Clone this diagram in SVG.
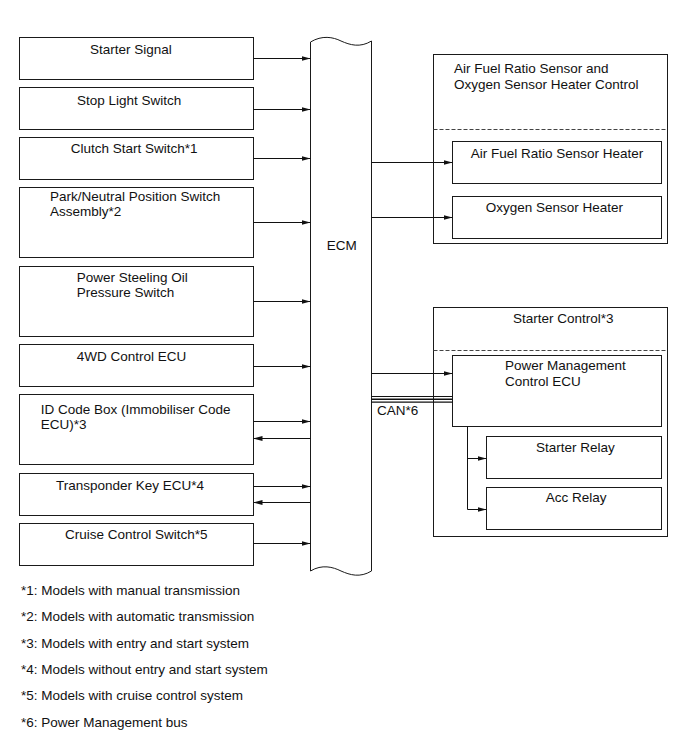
<svg xmlns="http://www.w3.org/2000/svg" width="690" height="756" viewBox="0 0 690 756">
<style>
.box{fill:#fff;stroke:#1a1a1a;stroke-width:1}
.grp{fill:none;stroke:#1a1a1a;stroke-width:1}
.dash{stroke:#444;stroke-width:1;stroke-dasharray:4 2;fill:none}
.t{font-family:"Liberation Sans",Arial,sans-serif;font-size:13.5px;fill:#111}
.c{stroke:#111;stroke-width:1;fill:none}
.ca{stroke:#111;stroke-width:1;fill:none;marker-end:url(#ah)}
</style>
<defs>
<marker id="ah" markerUnits="userSpaceOnUse" markerWidth="9" markerHeight="6" refX="9" refY="2.5" orient="auto">
<path d="M0,0 L9,2.5 L0,5 z" fill="#111"/>
</marker>
</defs>
<rect width="690" height="756" fill="#fff"/>

<g id="ecm">
<path class="box" d="M310.5,42 C322,35 333,37 341,41 C350,45 360,48 371.5,41 L371.5,571 C360,578 350,575 341,571 C333,567 322,564 310.5,571 Z"/>
<text class="t" x="326.7" y="250">ECM</text>
</g>

<g id="starter-signal"><rect class="box" x="19.5" y="37.5" width="234" height="42"/><text class="t" x="90" y="54.3">Starter Signal</text></g>
<g id="stop-light-switch"><rect class="box" x="19.5" y="87.5" width="234" height="42"/><text class="t" x="77" y="105">Stop Light Switch</text></g>
<g id="clutch-start-switch"><rect class="box" x="19.5" y="137.5" width="234" height="42"/><text class="t" x="70.7" y="152.7">Clutch Start Switch*1</text></g>
<g id="park-neutral"><rect class="box" x="19.5" y="187.5" width="234" height="70"/><text class="t" x="50" y="201">Park/Neutral Position Switch</text><text class="t" x="50" y="216">Assembly*2</text></g>
<g id="power-steeling"><rect class="box" x="19.5" y="266.5" width="234" height="70"/><text class="t" x="76.7" y="282">Power Steeling Oil</text><text class="t" x="76.7" y="297">Pressure Switch</text></g>
<g id="4wd-ecu"><rect class="box" x="19.5" y="344.5" width="234" height="42"/><text class="t" x="76.7" y="361">4WD Control ECU</text></g>
<g id="id-code-box"><rect class="box" x="19.5" y="394.5" width="234" height="70"/><text class="t" x="40.7" y="413.5">ID Code Box (Immobiliser Code</text><text class="t" x="40.7" y="428.5">ECU)*3</text></g>
<g id="transponder-key-ecu"><rect class="box" x="19.5" y="473.5" width="234" height="42"/><text class="t" x="56" y="490">Transponder Key ECU*4</text></g>
<g id="cruise-control-switch"><rect class="box" x="19.5" y="523.5" width="234" height="42"/><text class="t" x="65" y="539">Cruise Control Switch*5</text></g>

<g id="afr-group">
<rect class="grp" x="433.5" y="54.5" width="234" height="189"/>
<line class="dash" x1="433.5" y1="129.5" x2="667.5" y2="129.5"/>
<text class="t" x="454" y="72.5">Air Fuel Ratio Sensor and</text>
<text class="t" x="454" y="88.5">Oxygen Sensor Heater Control</text>
</g>
<g id="afr-heater"><rect class="box" x="452.5" y="141.5" width="209" height="42"/><text class="t" x="470.7" y="157.5">Air Fuel Ratio Sensor Heater</text></g>
<g id="o2-heater"><rect class="box" x="452.5" y="196.5" width="209" height="42"/><text class="t" x="485.7" y="211.7">Oxygen Sensor Heater</text></g>

<g id="starter-control-group">
<rect class="grp" x="433.5" y="307.5" width="234" height="229"/>
<line class="dash" x1="433.5" y1="350.5" x2="667.5" y2="350.5"/>
<text class="t" x="513" y="323.3">Starter Control*3</text>
</g>
<g id="pm-ecu"><rect class="box" x="452.5" y="355.5" width="209" height="71"/><text class="t" x="505" y="370">Power Management</text><text class="t" x="505" y="385.5">Control ECU</text></g>
<g id="starter-relay"><rect class="box" x="486.5" y="436.5" width="175" height="42"/><text class="t" x="536" y="451.5">Starter Relay</text></g>
<g id="acc-relay"><rect class="box" x="486.5" y="487.5" width="175" height="42"/><text class="t" x="545.7" y="501.5">Acc Relay</text></g>

<g id="connectors">
<line class="ca" x1="253.5" y1="58.5" x2="310.5" y2="58.5"/>
<line class="ca" x1="253.5" y1="109.5" x2="310.5" y2="109.5"/>
<line class="ca" x1="253.5" y1="158.5" x2="310.5" y2="158.5"/>
<line class="ca" x1="253.5" y1="222.5" x2="310.5" y2="222.5"/>
<line class="ca" x1="253.5" y1="301.5" x2="310.5" y2="301.5"/>
<line class="ca" x1="253.5" y1="366.5" x2="310.5" y2="366.5"/>
<line class="ca" x1="253.5" y1="421.5" x2="310.5" y2="421.5"/>
<line class="ca" x1="310.5" y1="438.5" x2="253.5" y2="438.5"/>
<line class="ca" x1="253.5" y1="486.5" x2="310.5" y2="486.5"/>
<line class="ca" x1="310.5" y1="502.5" x2="253.5" y2="502.5"/>
<line class="ca" x1="253.5" y1="543.5" x2="310.5" y2="543.5"/>
<line class="ca" x1="371.5" y1="162.5" x2="452.5" y2="162.5"/>
<line class="ca" x1="371.5" y1="217.5" x2="452.5" y2="217.5"/>
<line class="ca" x1="371.5" y1="373.5" x2="452.5" y2="373.5"/>
<line class="c" x1="371.5" y1="396.5" x2="452.5" y2="396.5"/>
<line class="c" x1="371.5" y1="399.3" x2="452.5" y2="399.3" style="stroke-width:1.6"/>
<line class="c" x1="371.5" y1="402.2" x2="452.5" y2="402.2" style="stroke-width:1.3"/>
<polyline class="c" points="467.5,426.5 467.5,509.5"/>
<line class="ca" x1="467.5" y1="458.5" x2="486.5" y2="458.5"/>
<line class="ca" x1="467.5" y1="509.5" x2="486.5" y2="509.5"/>
<text class="t" x="377" y="415">CAN*6</text>
</g>

<g id="footnotes">
<text class="t" x="21" y="595.3">*1: Models with manual transmission</text>
<text class="t" x="21" y="621">*2: Models with automatic transmission</text>
<text class="t" x="21" y="647.7">*3: Models with entry and start system</text>
<text class="t" x="21" y="674">*4: Models without entry and start system</text>
<text class="t" x="21" y="700">*5: Models with cruise control system</text>
<text class="t" x="21" y="727">*6: Power Management bus</text>
</g>
</svg>
